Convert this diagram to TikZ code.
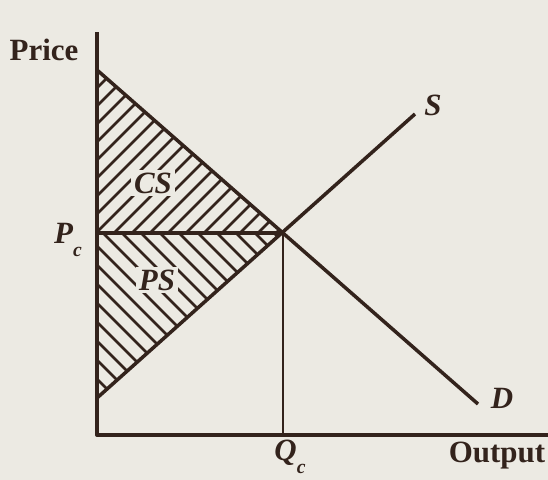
\documentclass[tikz,border=0pt]{standalone}
\usepackage{fontspec}
\setmainfont{Liberation Serif}
\usetikzlibrary{positioning}
\definecolor{cink}{HTML}{33231C}
\definecolor{cpaper}{HTML}{ECEAE3}
\tikzset{
  every picture/.style={x=0.025cm, y=-0.025cm, line join=round},
  axis/.style={draw=cink, line width=2.8pt},
  curve/.style={draw=cink, line width=2.5pt},
  guide/.style={draw=cink, line width=1.8pt},
  hatch/.style={draw=cink, line width=2pt},
  lbl/.style={text=cink, font=\fontsize{22}{26}\selectfont\bfseries, inner sep=1pt},
  area/.style={lbl, font=\fontsize{22}{26}\selectfont\bfseries\itshape, fill=cpaper, inner sep=2pt},
}
\newcommand{\lowsub}[1]{\raisebox{-0.4em}{\fontsize{14}{14}\selectfont #1}}

\begin{document}
\begin{tikzpicture}
  \useasboundingbox[fill=cpaper] (0,0) rectangle (548,480);
  \coordinate (O) at (97,435);
  \coordinate (ytop) at (97,32);
  \coordinate (xend) at (548,435);
  \coordinate (dtop) at (97,70);
  \coordinate (dend) at (478,404);
  \coordinate (sbot) at (97,398);
  \coordinate (send) at (415,114);
  \coordinate (E) at (283,233);
  \coordinate (pc) at (97,233);
  \coordinate (qc) at (283,435);
  % surplus areas
  \begin{scope}
    \clip (dtop) -- (E) -- (pc) -- cycle;
    \foreach \k in {0,...,20}
      \draw[hatch] (-103,270+18*\k) -- (397,-230+18*\k);
  \end{scope}
  \begin{scope}
    \clip (pc) -- (E) -- (sbot) -- cycle;
    \foreach \k in {0,...,19}
      \draw[hatch] (-103,198-19*\k) -- (397,698-19*\k);
  \end{scope}
  \draw[axis] (ytop) -- (O) -- (xend);
  \draw[curve] (dtop) -- (dend);
  \draw[curve] (sbot) -- (send);
  \draw[curve] (pc) -- (E);
  \draw[guide] (E) -- (qc);
  \node[lbl] (price) at (44,50) {Price};
  \node[lbl] (plab) at (68,240) {\textit{P}\lowsub{\textit{c}}};
  \node[lbl] (qlab) at (290,457) {\textit{Q}\lowsub{\textit{c}}};
  \node[lbl] (output) at (497,456) {Output};
  \node[lbl] (slab) at (433,105) {\textit{S}};
  \node[lbl] (dlab) at (502,398) {\textit{D}};
  \node[area] (cs) at (153,183) {CS};
  \node[area] (ps) at (157,280) {PS};
\end{tikzpicture}
\end{document}
